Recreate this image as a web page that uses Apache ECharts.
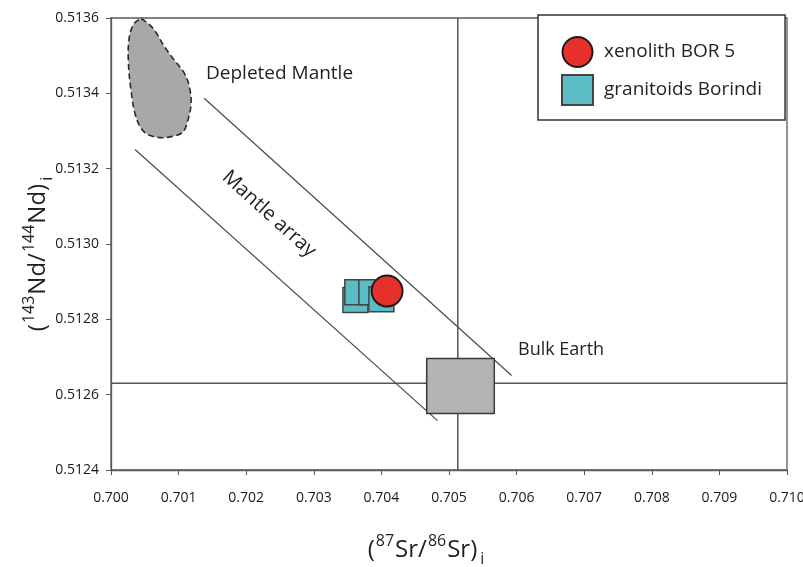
<!DOCTYPE html>
<html>
<head>
<meta charset="utf-8">
<script src="https://cdn.jsdelivr.net/npm/echarts@6/dist/echarts.min.js"></script>
<style>
html,body{margin:0;padding:0;background:#fff;}
#chart{width:803px;height:567px;}
</style>
</head>
<body>
<div id="chart"></div>
<script>
// ---- data ----
const xRange = [0.700, 0.710];
const yRange = [0.5124, 0.5136];
const xTickStep = 0.001;
const yTickStep = 0.0002;

const bulkEarthSr = 0.70513;
const bulkEarthNd = 0.51263;
// bulk earth box [srMin, srMax, ndMin, ndMax]
const bulkEarthBox = [0.70467, 0.70567, 0.51255, 0.512696];

const mantleArrayUpper = [[0.701378, 0.513387], [0.705926, 0.512651]];
const mantleArrayLower = [[0.700356, 0.513251], [0.704830, 0.512531]];

const depletedMantle = [
  [0.700444, 0.513597], [0.700519, 0.513590], [0.700641, 0.513568],
  [0.700793, 0.513523], [0.700938, 0.513488], [0.701086, 0.513453],
  [0.701160, 0.513417], [0.701185, 0.513373], [0.701136, 0.513328],
  [0.701062, 0.513297], [0.700889, 0.513285], [0.700692, 0.513283],
  [0.700493, 0.513297], [0.700370, 0.513337], [0.700296, 0.513408],
  [0.700256, 0.513488], [0.700271, 0.513550], [0.700345, 0.513586]
];

const granitoidsBorindi = [
  [0.703615, 0.512851],
  [0.703644, 0.512872],
  [0.703852, 0.512872],
  [0.704000, 0.512853]
];
const xenolithBOR5 = [[0.704084, 0.512875]];

const seriesNames = ['xenolith BOR 5', 'granitoids Borindi'];

// ---- chart ----
const chart = echarts.init(document.getElementById('chart'), null, {renderer: 'canvas'});
const textFont = '"Open Sans", "Noto Sans", sans-serif';
const tickFont = '"Open Sans", "Noto Sans", sans-serif';
const axisColor = '#5a5a5a';
const ink = '#231f20';

function titleRich(base, small) {
  return {
    p: {fontFamily: textFont, fontSize: base, color: ink, lineHeight: 34},
    b: {fontFamily: textFont, fontSize: base, color: ink, lineHeight: 34},
    s: {fontFamily: textFont, fontSize: small, color: ink, verticalAlign: 'top', lineHeight: 34, padding: [0, 1, 0, 1]},
    i: {fontFamily: textFont, fontSize: small, color: ink, verticalAlign: 'bottom', lineHeight: 34, padding: [0, 0, 0, 3]}
  };
}

const option = {
  backgroundColor: '#ffffff',
  animation: false,
  grid: {
    left: 111, right: 16, top: 18, bottom: 97,
    outerBoundsMode: 'none',
    containLabel: false,
    show: true, borderColor: axisColor, borderWidth: 1.3, backgroundColor: 'transparent'
  },
  legend: {
    data: [
      {name: seriesNames[0], icon: 'circle'},
      {name: seriesNames[1], icon: 'rect'}
    ],
    orient: 'vertical',
    left: 538, top: 15,
    padding: [21, 23, 14, 23],
    itemGap: 6,
    itemWidth: 31, itemHeight: 30,
    backgroundColor: '#ffffff',
    borderColor: '#333333', borderWidth: 1.5, borderRadius: 0,
    textStyle: {fontFamily: textFont, fontSize: 19, color: ink, padding: [0, 0, 0, 6]},
    selectedMode: false
  },
  xAxis: {
    type: 'value', min: xRange[0], max: xRange[1], interval: xTickStep,
    name: '{p|(}{s|87}{b|Sr/}{s|86}{b|Sr)}{i|i}',
    nameLocation: 'middle', nameGap: 63, nameMoveOverlap: false,
    nameTextStyle: {padding: [0, 46, 0, 0], rich: titleRich(24, 16)},
    axisLine: {show: true, onZero: false, lineStyle: {color: axisColor, width: 1.3}},
    axisTick: {show: true, inside: false, length: 5, lineStyle: {color: axisColor}},
    axisLabel: {
      margin: 21, fontFamily: tickFont, fontSize: 14, color: '#1a1a1a',
      formatter: v => v.toFixed(3)
    },
    splitLine: {show: false}
  },
  yAxis: {
    type: 'value', min: yRange[0], max: yRange[1], interval: yTickStep,
    name: '{p|(}{s|143}{b|Nd/}{s|144}{b|Nd)}{i|i}',
    nameLocation: 'middle', nameGap: 56, nameRotate: 90, nameMoveOverlap: false,
    nameTextStyle: {padding: [0, 20, 0, 0], rich: titleRich(24, 16)},
    axisLine: {show: true, onZero: false, lineStyle: {color: axisColor, width: 1.3}},
    axisTick: {show: true, inside: false, length: 5, lineStyle: {color: axisColor}},
    axisLabel: {
      margin: 12, fontFamily: tickFont, fontSize: 14, color: '#1a1a1a',
      formatter: v => v.toFixed(4)
    },
    splitLine: {show: false}
  },
  series: [
    {
      name: 'Bulk Earth Sr', type: 'line', silent: true, symbol: 'none', z: 1,
      data: [[bulkEarthSr, yRange[0]], [bulkEarthSr, yRange[1]]],
      lineStyle: {color: '#555555', width: 1.5}
    },
    {
      name: 'Bulk Earth Nd', type: 'line', silent: true, symbol: 'none', z: 1,
      data: [[xRange[0], bulkEarthNd], [xRange[1], bulkEarthNd]],
      lineStyle: {color: '#555555', width: 1.5}
    },
    {
      name: 'Mantle array upper', type: 'line', silent: true, symbol: 'none', z: 1,
      data: mantleArrayUpper, lineStyle: {color: '#4a4a4a', width: 1.2}
    },
    {
      name: 'Mantle array lower', type: 'line', silent: true, symbol: 'none', z: 1,
      data: mantleArrayLower, lineStyle: {color: '#4a4a4a', width: 1.2}
    },
    {
      name: 'Depleted Mantle', type: 'custom', silent: true, z: 2,
      data: [0],
      renderItem: function (params, api) {
        const pts = depletedMantle.map(p => api.coord(p));
        return {
          type: 'polygon',
          shape: {points: pts, smooth: 0.35},
          style: {fill: '#a8a8a8', stroke: '#2a2a2a', lineWidth: 1.6, lineDash: [6, 3.5]}
        };
      }
    },
    {
      name: 'Bulk Earth', type: 'custom', silent: true, z: 3,
      data: [bulkEarthBox],
      renderItem: function (params, api) {
        const p0 = api.coord([api.value(0), api.value(3)]);
        const p1 = api.coord([api.value(1), api.value(2)]);
        return {
          type: 'rect',
          shape: {x: p0[0], y: p0[1], width: p1[0] - p0[0], height: p1[1] - p0[1]},
          style: {fill: '#b3b3b3', stroke: '#3a3a3a', lineWidth: 1.5}
        };
      }
    },
    {
      name: seriesNames[1], type: 'scatter', z: 4,
      symbol: 'rect', symbolSize: 25,
      data: granitoidsBorindi,
      itemStyle: {color: '#5bbcc6', borderColor: '#444444', borderWidth: 1.5, opacity: 1}
    },
    {
      name: seriesNames[0], type: 'scatter', z: 5,
      symbol: 'circle', symbolSize: 31,
      data: xenolithBOR5,
      itemStyle: {color: '#e5302b', borderColor: '#1a1a1a', borderWidth: 2, opacity: 1}
    }
  ],
  graphic: [
    {
      type: 'text', left: 206, top: 64, z: 10, silent: true,
      style: {text: 'Depleted Mantle', font: '19px ' + textFont, fill: ink}
    },
    {
      type: 'text', x: 269, y: 214, rotation: -0.735, z: 10, silent: true,
      style: {text: 'Mantle array', font: '20px ' + textFont, fill: ink, align: 'center', verticalAlign: 'middle'}
    },
    {
      type: 'text', left: 518, top: 341, z: 10, silent: true,
      style: {text: 'Bulk Earth', font: '18px ' + textFont, fill: ink}
    }
  ]
};
chart.setOption(option);
</script>
</body>
</html>
